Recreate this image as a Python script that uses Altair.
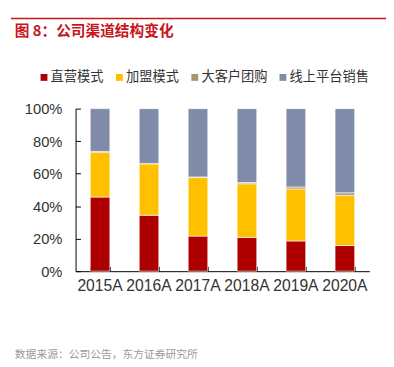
import altair as alt
import pandas as pd

years = ["2015A", "2016A", "2017A", "2018A", "2019A", "2020A"]
series = ["直营模式", "加盟模式", "大客户团购", "线上平台销售"]
direct = [45.6, 34.4, 21.6, 20.8, 18.6, 15.8]
franchise = [27.6, 31.6, 36.0, 33.0, 32.0, 30.8]
bulk = [0.5, 0.3, 0.4, 0.7, 1.2, 1.6]
online = [26.3, 33.7, 42.0, 45.5, 48.2, 51.8]
colors = ["#AE0000", "#FFC000", "#A8966F", "#7F8BA8"]
y_ticks = [0, 0.2, 0.4, 0.6, 0.8, 1.0]

title_text = "图 8：公司渠道结构变化"
source_text = "数据来源：公司公告，东方证券研究所"

rows = []
for i, y in enumerate(years):
    for k, (s, vals) in enumerate(zip(series, [direct, franchise, bulk, online])):
        rows.append({"year": y, "series": s, "order": k, "value": vals[i] / 100.0})
df = pd.DataFrame(rows)

W, H = 300, 166
xscale = alt.Scale(paddingInner=0.6, paddingOuter=0.3)
yscale = alt.Scale(domain=[0, 1])

bars = alt.Chart(df).mark_bar(stroke="white", strokeWidth=0.6).encode(
    x=alt.X("year:N", sort=years, scale=xscale, title=None,
            axis=alt.Axis(labelAngle=0, ticks=False, tickSize=0, labelPadding=7,
                          domainColor="#000000", domainWidth=1,
                          labelFont="Liberation Sans", labelFontSize=16,
                          labelColor="#333333", grid=False)),
    y=alt.Y("value:Q", stack="zero", scale=yscale, title=None,
            axis=alt.Axis(values=y_ticks, format=".0%", ticks=False, tickSize=0,
                          labelPadding=14, domainColor="#000000", domainWidth=1,
                          labelFont="Liberation Sans", labelFontSize=15,
                          labelColor="#333333", grid=False)),
    color=alt.Color("series:N", sort=series,
                    scale=alt.Scale(domain=series, range=colors),
                    legend=alt.Legend(title=None, orient="none", direction="horizontal",
                                      legendX=-39, legendY=-39,
                                      symbolType="square", symbolSize=49,
                                      symbolStrokeWidth=0, labelFont="Noto Sans CJK SC",
                                      labelFontSize=13.5, labelColor="#333333",
                                      labelOffset=0, columnPadding=9)),
    order=alt.Order("order:Q", sort="ascending"),
)

tick_layer = alt.Chart(df).mark_bar(opacity=0).encode(
    x=alt.X("year:N", sort=years, scale=xscale, title=None,
            axis=alt.Axis(orient="top", offset=-H, labels=False, domain=False,
                          ticks=True, tickSize=5, tickBand="extent",
                          tickColor="#000000", tickWidth=1, grid=False)),
    y=alt.Y("value:Q", stack="zero", scale=yscale, title=None,
            axis=alt.Axis(orient="right", offset=-W, labels=False, domain=False,
                          values=y_ticks, ticks=True, tickSize=5,
                          tickColor="#000000", tickWidth=1, grid=False)),
)

top_line = alt.Chart(pd.DataFrame({"k": [0]})).mark_rule(
    color="#C8161D", strokeWidth=1.5
).encode(x=alt.value(-66), x2=alt.value(317), y=alt.value(-92), y2=alt.value(-92))

title = alt.Chart(pd.DataFrame({"t": [title_text]})).mark_text(
    align="left", baseline="alphabetic", font="Noto Sans CJK SC",
    fontSize=15, fontWeight="bold", color="#C8161D"
).encode(text="t:N", x=alt.value(-62), y=alt.value(-74))

source = alt.Chart(pd.DataFrame({"t": [source_text]})).mark_text(
    align="left", baseline="middle", font="Noto Sans CJK SC",
    fontSize=11, color="#9A9A9A"
).encode(text="t:N", x=alt.value(-62), y=alt.value(252))

chart = alt.layer(bars, tick_layer, top_line, title, source).resolve_axis(
    x="independent", y="independent"
).properties(
    width=W, height=H,
    autosize=alt.AutoSizeParams(type="none"),
    padding={"left": 69, "top": 99, "right": 17, "bottom": 90},
    background="white",
).configure_view(stroke=None)

chart.save("out.html", embed_options={"renderer": "svg", "actions": False})
